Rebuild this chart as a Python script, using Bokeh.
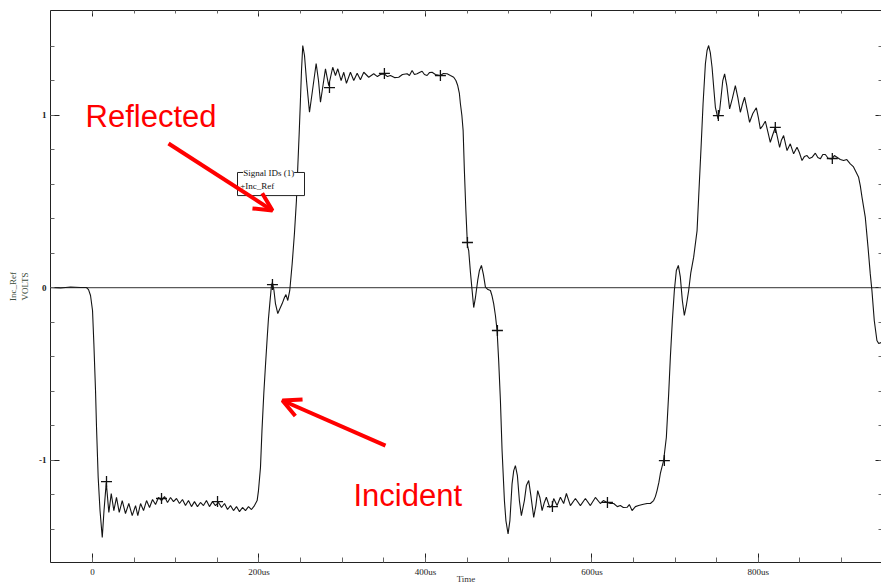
from bokeh.plotting import figure
from bokeh.models import (Range1d, FixedTicker, LinearAxis, Span, Label, Arrow,
                          OpenHead, BoxAnnotation)
from bokeh.embed import file_html
from bokeh.resources import INLINE

# ---------------- data ----------------
time_us = [
    -50.5, -38.4, -26.4, -14.4, -7.2, -4.8, -2.4, 0, 1.6, 3.6, 4.8, 6.8, 9.0, 11.7, 13.8, 16.5,
    19.6, 22.5, 25.6, 28.8, 32.1, 35.7, 39.6, 43.6, 47.7, 51.7, 54.4, 57.7, 61.3, 64.9, 68.5,
    72.1, 75.7, 79.3, 82.9, 86.5, 90.1, 93.7, 97.3, 100.9, 104.5, 108.1, 111.7, 115.3, 118.9,
    122.5, 126.1, 129.7, 133.3, 136.9, 140.5, 144.1, 147.7, 151.4, 155.0, 158.6, 162.2, 165.8,
    169.4, 173.0, 176.6, 180.2, 183.8, 187.4, 191.0, 194.6, 197.8, 199.4, 201.8, 203.6, 205.8,
    207.8, 209.9, 211.4, 213.0, 215.0, 216.2, 218.0, 219.8, 222.6, 225.2, 227.9, 230.6, 232.4,
    234.6, 237.0, 239.9, 242.6, 245.0, 246.6, 248.3, 249.8, 251.1, 252.6, 254.7, 257.1, 260.7,
    264.3, 268.7, 271.5, 273.9, 276.9, 279.9, 283.8, 288.6, 291.9, 294.7, 298.7, 301.9, 305.1,
    309.9, 313.9, 318.0, 321.9, 325.9, 331.9, 337.9, 342.3, 345.9, 350.7, 354.4, 358.0, 362.8,
    367.9, 372.4, 378.0, 380.8, 384.0, 386.8, 390.0, 392.8, 396.0, 398.8, 402.0, 404.8, 408.0,
    412.0, 418.0, 421.6, 426.1, 430.0, 434.0, 436.6, 438.8, 440.8, 442.0, 443.8, 445.3, 446.8,
    448.6, 450.5, 452.0, 454.1, 456.1, 458.0, 460.1, 462.8, 464.9, 467.3, 469.7, 472.1, 475.1,
    478.1, 479.9, 482.0, 484.1, 486.1, 488.0, 490.1, 492.1, 494.9, 496.7, 499.3, 501.5, 504.1,
    506.1, 508.1, 510.5, 512.9, 515.3, 518.9, 521.3, 524.1, 526.7, 530.1, 532.7, 534.9, 537.5,
    540.2, 542.9, 545.3, 549.3, 552.2, 554.1, 558.2, 562.2, 566.1, 569.4, 574.2, 580.2, 586.2,
    592.2, 598.2, 604.2, 610.2, 613.8, 618.3, 622.2, 626.2, 630.6, 634.2, 637.8, 642.3, 645.0,
    648.3, 652.3, 656.2, 660.7, 666.3, 670.3, 674.2, 676.3, 678.3, 680.5, 682.3, 684.1, 686.2,
    689.5, 692.3, 694.3, 696.7, 699.1, 701.5, 703.9, 706.3, 708.7, 711.1, 713.5, 716.3, 718.9,
    722.3, 726.4, 728.3, 731.2, 733.6, 736.4, 738.4, 740.3, 742.3, 744.4, 746.5, 748.4, 751.6,
    753.5, 755.2, 757.3, 759.5, 762.1, 765.5, 768.8, 772.4, 775.4, 778.4, 780.8, 783.5, 786.8,
    789.5, 793.4, 797.6, 800.0, 802.4, 805.4, 808.4, 811.4, 814.4, 817.4, 820.4, 822.8, 825.6,
    827.6, 830.4, 834.5, 838.4, 842.4, 846.5, 849.3, 852.5, 855.3, 858.5, 861.3, 864.5, 868.5,
    871.5, 874.5, 877.5, 880.5, 884.1, 888.5, 891.3, 894.5, 898.5, 902.5, 906.3, 910.5, 914.1,
    916.5, 920.5, 922.5, 924.6, 928.5, 931.8, 934.5, 936.5, 939.3, 942.5, 944.6, 947.7, 952.5,
]
volts = [
    0, -0.003, 0.003, 0, 0, -0.012, -0.046, -0.133, -0.325, -0.597, -0.812, -1.101, -1.293,
    -1.449, -1.293, -1.130, -1.304, -1.194, -1.293, -1.217, -1.304, -1.235, -1.310, -1.252,
    -1.322, -1.264, -1.322, -1.252, -1.293, -1.235, -1.275, -1.229, -1.258, -1.217, -1.235,
    -1.212, -1.246, -1.217, -1.241, -1.223, -1.252, -1.229, -1.264, -1.235, -1.270, -1.241,
    -1.270, -1.246, -1.264, -1.235, -1.270, -1.241, -1.264, -1.246, -1.275, -1.252, -1.287,
    -1.264, -1.293, -1.270, -1.299, -1.275, -1.293, -1.270, -1.287, -1.264, -1.235, -1.177,
    -1.043, -0.829, -0.614, -0.452, -0.290, -0.180, -0.093, 0.012, 0.029, -0.017, -0.093,
    -0.151, -0.122, -0.093, -0.058, -0.041, -0.075, -0.017, 0.139, 0.313, 0.504, 0.696, 0.893,
    1.084, 1.258, 1.403, 1.345, 1.200, 1.016, 1.142, 1.299, 1.200, 1.074, 1.171, 1.268, 1.171,
    1.277, 1.229, 1.268, 1.200, 1.248, 1.184, 1.248, 1.200, 1.242, 1.204, 1.248, 1.219, 1.239,
    1.223, 1.235, 1.238, 1.223, 1.229, 1.217, 1.219, 1.235, 1.239, 1.229, 1.258, 1.235, 1.239,
    1.246, 1.254, 1.235, 1.229, 1.246, 1.248, 1.235, 1.229, 1.241, 1.239, 1.229, 1.219, 1.200,
    1.171, 1.125, 1.067, 0.997, 0.910, 0.678, 0.446, 0.243, 0.214, 0.087, -0.017, -0.116,
    -0.058, 0.041, 0.099, 0.128, 0.075, 0.002, -0.012, -0.017, -0.046, -0.093, -0.162, -0.249,
    -0.423, -0.655, -0.945, -1.235, -1.351, -1.428, -1.351, -1.138, -1.061, -1.032, -1.090,
    -1.235, -1.322, -1.235, -1.148, -1.119, -1.206, -1.332, -1.264, -1.177, -1.217, -1.293,
    -1.246, -1.216, -1.274, -1.264, -1.223, -1.264, -1.216, -1.252, -1.194, -1.264, -1.223,
    -1.264, -1.223, -1.264, -1.217, -1.252, -1.235, -1.246, -1.252, -1.252, -1.270, -1.264,
    -1.275, -1.274, -1.258, -1.293, -1.270, -1.264, -1.258, -1.252, -1.252, -1.235, -1.212,
    -1.177, -1.130, -1.078, -1.043, -1.003, -0.868, -0.614, -0.404, -0.191, -0.017, 0.099,
    0.128, 0.060, -0.075, -0.162, -0.104, -0.017, 0.087, 0.176, 0.330, 0.523, 0.813, 1.065,
    1.297, 1.374, 1.403, 1.362, 1.277, 1.154, 1.045, 0.978, 1.026, 1.103, 1.200, 1.239, 1.171,
    1.036, 1.096, 1.171, 1.101, 1.016, 1.061, 1.103, 1.026, 0.958, 1.009, 1.042, 0.986, 0.920,
    0.939, 0.964, 0.904, 0.842, 0.887, 0.928, 0.875, 0.813, 0.852, 0.881, 0.794, 0.833, 0.775,
    0.813, 0.783, 0.736, 0.759, 0.765, 0.748, 0.755, 0.779, 0.754, 0.746, 0.771, 0.771, 0.748,
    0.746, 0.765, 0.755, 0.742, 0.736, 0.742, 0.717, 0.701, 0.678, 0.639, 0.591, 0.523, 0.408,
    0.234, 0.079, -0.017, -0.191, -0.307, -0.325, -0.319, -0.319,
]
marker_t = [16.8, 82.9, 150.2, 216.2, 284.7, 350.7, 418.0, 450.5, 486.5, 552.6, 618.7,
            687.1, 752.0, 820.4, 888.9]
marker_v = [-1.125, -1.223, -1.241, 0.017, 1.159, 1.241, 1.229, 0.261, -0.249, -1.270,
            -1.246, -1.003, 0.997, 0.928, 0.748]

x_ticks = [0, 200, 400, 600, 800]
x_tick_labels = ["0", "200us", "400us", "600us", "800us"]
x_minor = [-50, 0, 50, 100, 150, 200, 250, 300, 350, 400, 450, 500, 550, 600, 650, 700,
           750, 800, 850, 900]
y_ticks = [-1, 0, 1]
y_tick_labels = ["-1", "0", "1"]
y_minor = [-1.4, -1.2, -1.0, -0.8, -0.6, -0.4, -0.2, 0.0, 0.2, 0.4, 0.6, 0.8, 1.0, 1.2, 1.4]

SERIF = "Liberation Serif"
SANS = "Liberation Sans"
RED = "#ff0000"

p = figure(width=881, height=586, x_range=Range1d(-50.5, 948), y_range=Range1d(-1.594, 1.606),
           output_backend="svg", toolbar_location=None,
           min_border_left=50, min_border_right=0, min_border_top=10, min_border_bottom=24)
p.grid.visible = False
p.outline_line_color = None
p.background_fill_color = "white"
p.border_fill_color = "white"


def style_axis(ax, show_labels, tin, tmin, line=True):
    ax.axis_line_color = "#222222" if line else None
    ax.axis_line_width = 1
    ax.major_tick_line_color = "#222222"
    ax.minor_tick_line_color = "#666666"
    ax.major_tick_out = 0
    ax.minor_tick_out = 0
    ax.major_tick_in = tin
    ax.minor_tick_in = tmin
    ax.major_label_text_font = SERIF
    ax.major_label_text_color = "#222222"
    if show_labels:
        ax.major_label_text_font_size = "9px"
        ax.major_label_standoff = 4
    else:
        ax.major_label_text_font_size = "0px"
        ax.major_label_standoff = 0


xb = p.xaxis[0]
xb.ticker = FixedTicker(ticks=x_ticks, minor_ticks=x_minor)
xb.major_label_overrides = dict(zip(x_ticks, x_tick_labels))
style_axis(xb, True, 9, 5)
xb.axis_label = "Time"
xb.axis_label_text_font = SERIF
xb.axis_label_text_font_style = "normal"
xb.axis_label_text_font_size = "9px"
xb.axis_label_text_color = "#333333"
xb.axis_label_standoff = -6

yl = p.yaxis[0]
yl.ticker = FixedTicker(ticks=y_ticks, minor_ticks=y_minor)
yl.major_label_overrides = dict(zip(y_ticks, y_tick_labels))
style_axis(yl, True, 9, 4)
yl.major_label_text_font_style = "bold"
yl.axis_label = "Inc_Ref\nVOLTS"
yl.axis_label_text_font = SERIF
yl.axis_label_text_font_style = "normal"
yl.axis_label_text_font_size = "9px"
yl.axis_label_text_color = "#3d4d3d"
yl.axis_label_standoff = 6

xt = LinearAxis(ticker=FixedTicker(ticks=x_ticks, minor_ticks=x_minor))
xt.major_label_overrides = {t: "" for t in x_ticks}
style_axis(xt, False, 6, 3)
p.add_layout(xt, "above")

yr = LinearAxis(ticker=FixedTicker(ticks=y_ticks, minor_ticks=y_minor))
yr.major_label_overrides = {t: "" for t in y_ticks}
style_axis(yr, False, 6, 3, line=False)
p.add_layout(yr, "right")

p.add_layout(Span(location=0, dimension="width", line_color="#5a5a5a", line_width=1.2,
                  level="underlay"))

p.line(time_us, volts, line_color="#141414", line_width=1.1)
p.scatter(marker_t, marker_v, marker="cross", size=11, line_color="#111111", line_width=1.3)

# legend box
p.add_layout(BoxAnnotation(left=174.2, right=254.7, top=0.667, bottom=0.533,
                           fill_color="white", fill_alpha=1.0, line_color="#222222",
                           line_width=1, line_alpha=1.0))
p.add_layout(Label(x=181.0, y=0.662, text="Signal IDs (1)", text_font=SERIF,
                   text_font_size="9px", text_color="#111111", text_baseline="middle",
                   background_fill_color="white"))
p.add_layout(Label(x=177.5, y=0.591, text="+Inc_Ref", text_font=SERIF,
                   text_font_size="9px", text_color="#111111", text_baseline="middle"))

# red annotations
p.add_layout(Label(x=-8.4, y=0.99, text="Reflected", text_font=SANS, text_font_size="31px",
                   text_color=RED, text_baseline="alphabetic"))
p.add_layout(Label(x=313.5, y=-1.206, text="Incident", text_font=SANS, text_font_size="31px",
                   text_color=RED, text_baseline="alphabetic"))
p.add_layout(Arrow(end=OpenHead(size=18, line_color=RED, line_width=4),
                   x_start=91.3, y_start=0.835, x_end=216.2, y_end=0.446,
                   line_color=RED, line_width=4))
p.add_layout(Arrow(end=OpenHead(size=18, line_color=RED, line_width=4),
                   x_start=352.0, y_start=-0.916, x_end=228.2, y_end=-0.655,
                   line_color=RED, line_width=4))

open("out.html", "w").write(file_html(p, INLINE))
